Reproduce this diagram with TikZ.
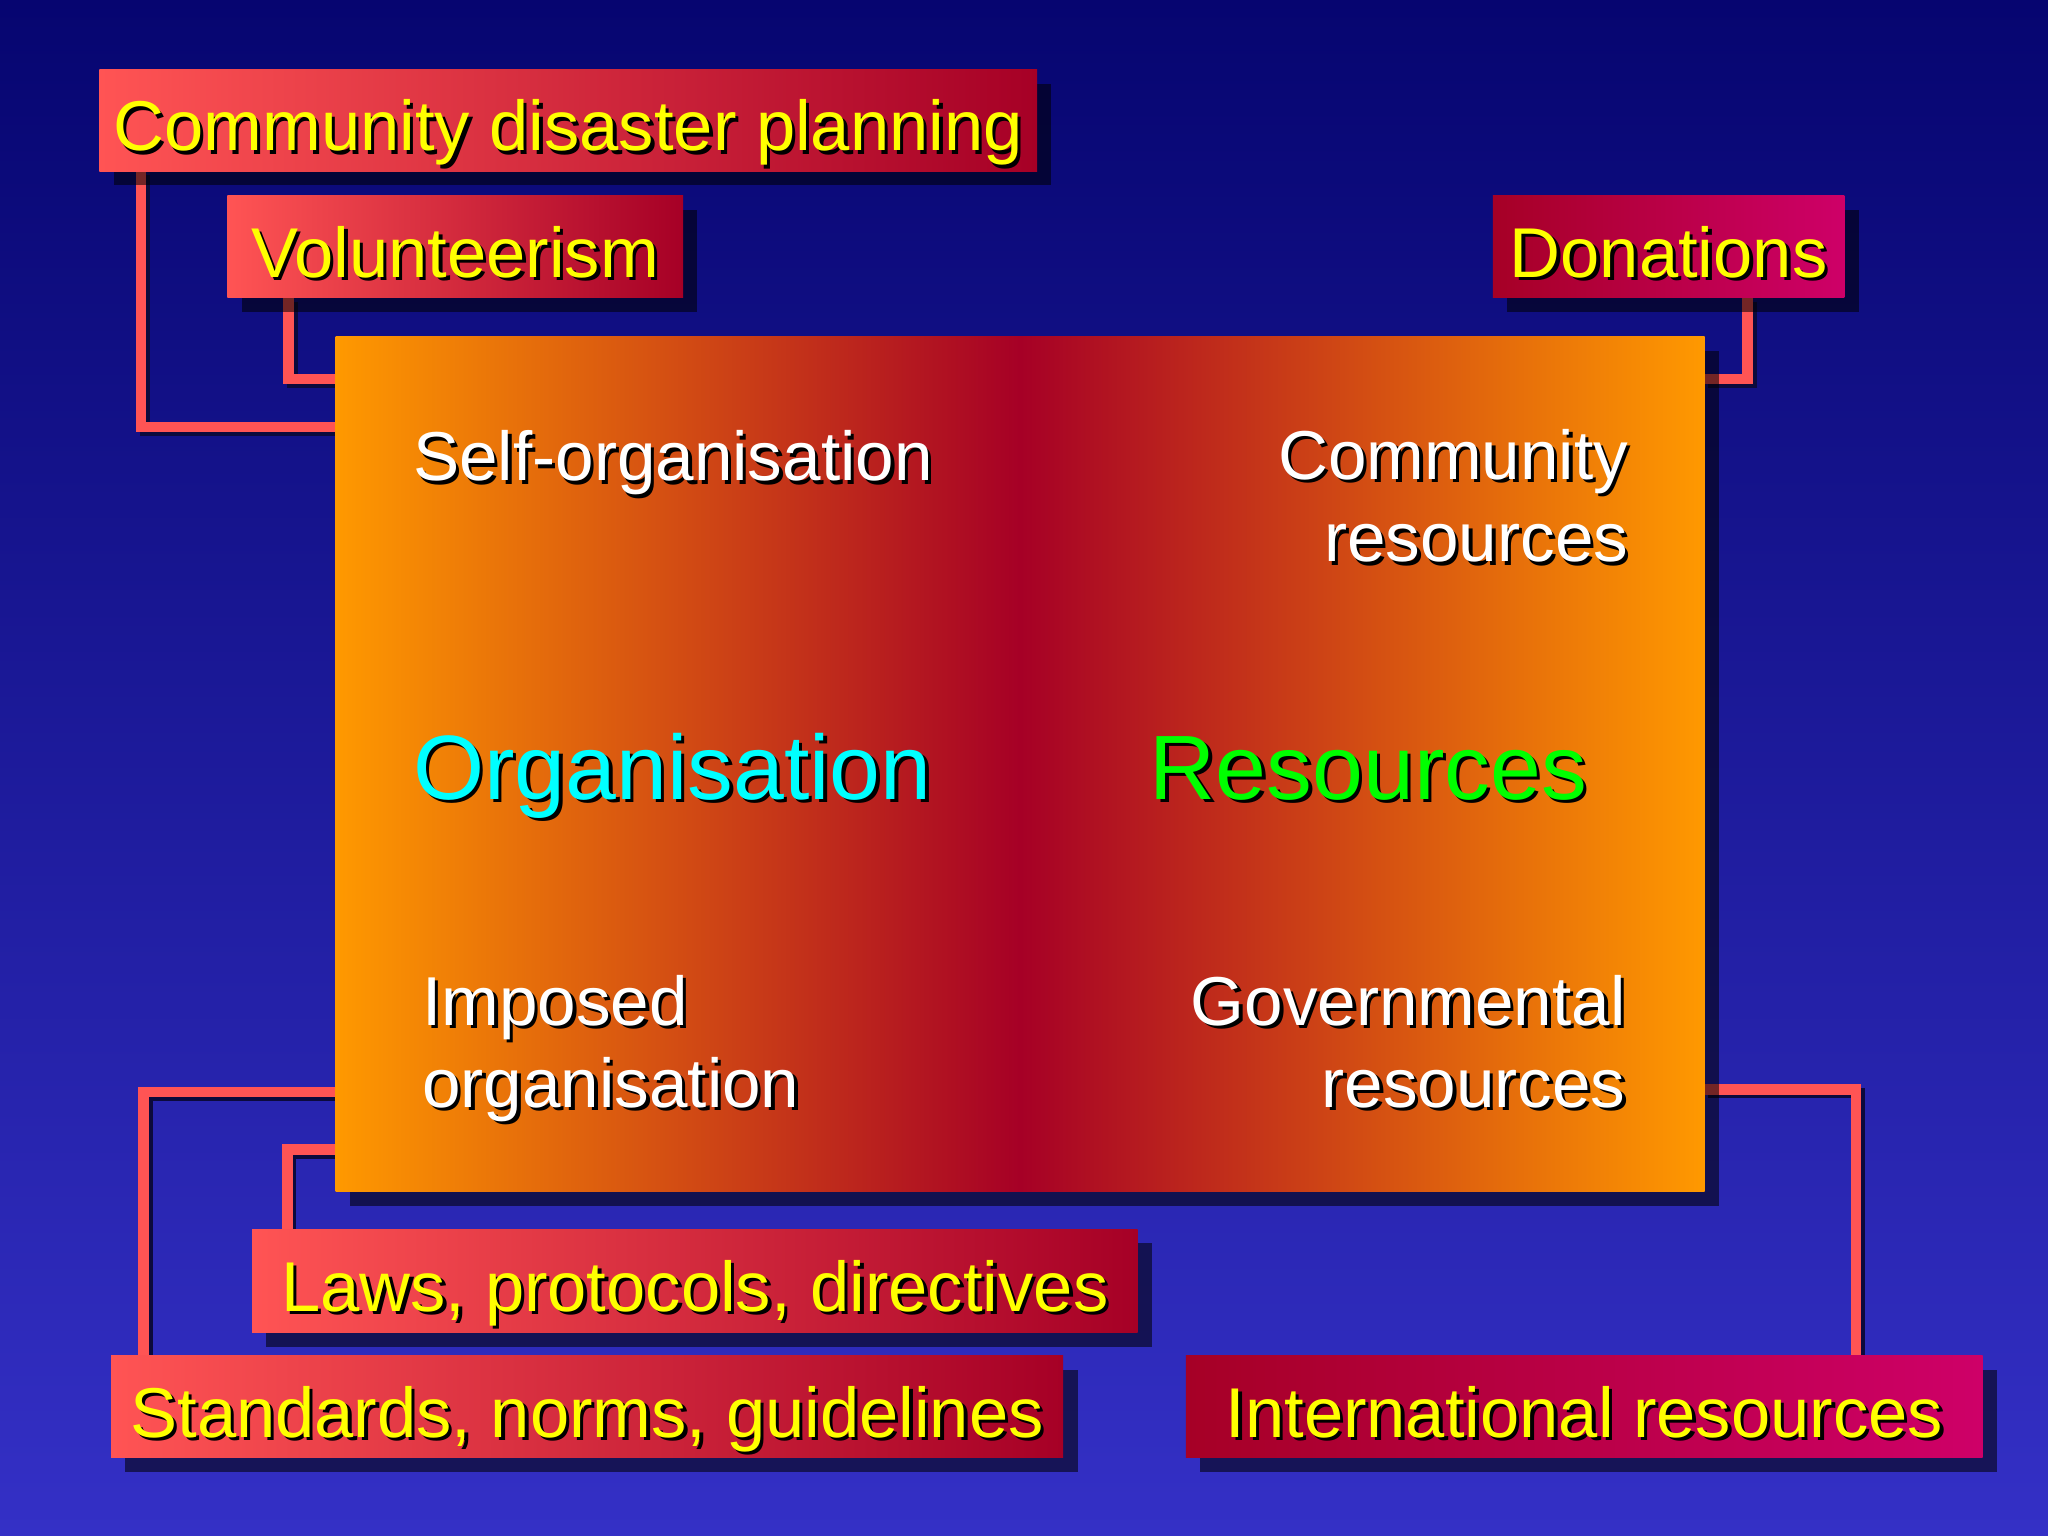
\documentclass[tikz,border=0pt]{standalone}
\usepackage{fontspec}
\setmainfont{Liberation Sans}
\usetikzlibrary{shadows,backgrounds}

\definecolor{bgtop}{RGB}{6,5,112}
\definecolor{bgbot}{RGB}{52,48,198}
\definecolor{salmon}{RGB}{255,84,84}
\definecolor{crimson}{RGB}{166,0,38}
\definecolor{plum}{RGB}{206,0,104}
\definecolor{amber}{RGB}{255,153,0}
\definecolor{labyellow}{RGB}{255,255,0}
\definecolor{orgcyan}{RGB}{0,255,255}
\definecolor{resgreen}{RGB}{0,255,0}
\definecolor{linkshade}{RGB}{12,10,60}

% text with a small black drop shadow
\newcommand{\shd}[1]{\rlap{\kern1.3pt\raisebox{-1.3pt}{\color{black}#1}}#1}

\tikzset{
  boxshadow/.style={drop shadow={shadow xshift=5.5pt, shadow yshift=-5.5pt, fill=black, opacity=0.55}},
  boxbase/.style={rectangle, inner sep=0pt, outer sep=0pt, minimum height=39pt,
    text=labyellow, font=\fontsize{27pt}{31pt}\selectfont,
    text height=24.5pt, text depth=1pt, boxshadow},
  warmbox/.style={boxbase, left color=salmon, right color=crimson},
  coolbox/.style={boxbase, left color=crimson, right color=plum},
  intext/.style={text=white, inner sep=0pt, font=\fontsize{26.5pt}{31.5pt}\selectfont},
  bigtext/.style={inner sep=0pt, font=\fontsize{35pt}{40pt}\selectfont},
  link/.style={draw=salmon, line width=4pt,
    preaction={draw=linkshade, line width=4pt, transform canvas={xshift=1.5pt, yshift=-1.5pt}}},
}

\begin{document}
\begin{tikzpicture}[x=0.5pt,y=-0.5pt]
\useasboundingbox (0,0) rectangle (1568,1176);

%Label boxes, top
\node[warmbox, minimum width=359pt] (cdp) at (435,92) {\shd{Community disaster planning}};
\node[warmbox, minimum width=174.5pt] (vol) at (348.5,189) {\shd{Volunteerism}};
\node[coolbox, minimum width=134.5pt] (don) at (1277.5,189) {\shd{Donations}};

%Central box
\node[rectangle, inner sep=0pt, outer sep=0pt, minimum width=524pt, minimum height=327pt,
  left color=amber, right color=amber, middle color=crimson, boxshadow] (hub) at (781,585) {};

%Label boxes, bottom
\node[warmbox, minimum width=339pt, minimum height=39.5pt] (laws) at (532,980.5) {\shd{Laws, protocols, directives}};
\node[warmbox, minimum width=364.5pt] (stds) at (449.5,1077) {\shd{Standards, norms, guidelines}};
\node[coolbox, minimum width=305pt] (intl) at (1213,1077) {\shd{International resources}};

% Text Node
\node[intext, anchor=base west] (selforg) at (316,368) {\shd{Self-organisation}};
% Text Node
\node[intext, anchor=base east, align=right] (comres) at (1247,430) {\shd{Community}\\\shd{resources}};
% Text Node
\node[bigtext, text=orgcyan, anchor=base west] (orgn) at (316,612) {\shd{Organisation}};
% Text Node
\node[bigtext, text=resgreen, anchor=base west] (resc) at (880,612) {\shd{Resources}};
% Text Node
\node[intext, anchor=base west, align=left] (imposed) at (323,848) {\shd{Imposed}\\\shd{organisation}};
% Text Node
\node[intext, anchor=base east, align=right] (govres) at (1245,848) {\shd{Governmental}\\\shd{resources}};

\begin{scope}[on background layer]
%Backdrop
\fill[top color=bgtop, bottom color=bgbot] (0,0) rectangle (1568,1176);
%Connectors
\draw[link] ([xshift=16pt]cdp.south west) |- ([yshift=-34.5pt]hub.north west);
\draw[link] ([xshift=23.5pt]vol.south west) |- ([yshift=-16pt]hub.north west);
\draw[link] ([xshift=-37pt]don.south east) |- ([yshift=-16pt]hub.north east);
\draw[link] ([xshift=12.5pt]stds.north west) |- ([yshift=38pt]hub.south west);
\draw[link] ([xshift=13.5pt]laws.north west) |- ([yshift=16pt]hub.south west);
\draw[link] ([xshift=-48.5pt]intl.north east) |- ([yshift=39pt]hub.south east);
\end{scope}

\end{tikzpicture}
\end{document}
